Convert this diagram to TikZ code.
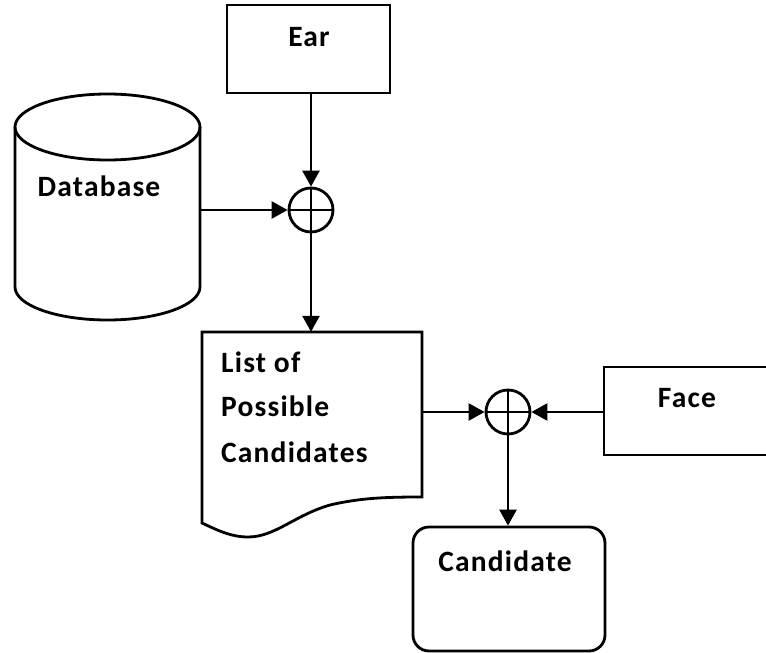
\documentclass[tikz,border=0pt]{standalone}
\usepackage{fontspec}
\setmainfont{Carlito}[LetterSpace=4]
\usetikzlibrary{arrows.meta}
\tikzset{
  outline/.style={draw=black, line width=2.8pt},
  boxnode/.style={outline, rectangle, inner sep=0pt},
  hidden/.style={rectangle, inner sep=0pt},
  sumnode/.style={outline, circle, minimum size=44pt, inner sep=0pt},
  caption/.style={inner sep=0pt, font=\fontsize{29.5}{31}\selectfont\bfseries},
  flow/.style={draw=black, line width=2.6pt, -{Triangle[length=16pt, width=17pt]}}
}
\begin{document}
\begin{tikzpicture}[x=1pt, y=-1pt]
\clip (0,0) rectangle (766,653);
\fill[white] (0,0) rectangle (766,653);

% input boxes
\node[boxnode, minimum width=163pt, minimum height=88pt] (ear) at (308.5,49) {};
\node[caption, anchor=base] (eartext) at (309,46) {Ear};

\node[boxnode, minimum width=200pt, minimum height=88pt] (face) at (704,411) {};
\node[caption, anchor=base] (facetext) at (687,407) {Face};

% database cylinder
\node[hidden, minimum width=185pt, minimum height=227pt] (db) at (107.5,208) {};
\draw[outline] (107.5,127) ellipse [x radius=92.5pt, y radius=33pt];
\draw[outline] (15,127) -- (15,287)
  arc[start angle=180, end angle=360, x radius=92.5pt, y radius=33pt]
  -- (200,127);
\node[caption, anchor=base] (dbtext) at (99,196) {Database};

% summing junctions
\node[sumnode] (s1) at (311,210) {};
\draw[outline] (s1.north) -- (s1.south) (s1.west) -- (s1.east);
\node[sumnode] (s2) at (508,412) {};
\draw[outline] (s2.north) -- (s2.south) (s2.west) -- (s2.east);

% document shape with wavy bottom
\node[hidden, minimum width=220pt, minimum height=191pt] (list) at (312,427.5) {};
\draw[outline, line join=miter] (202,523) -- (202,332) -- (422,332) -- (422,497)
  .. controls (385,497) and (360,498) .. (330,505)
  .. controls (295,515) and (275,537) .. (248,537)
  .. controls (230,537) and (215,529) .. cycle;
\node[caption, anchor=base west] (lt1) at (221,372) {List of};
\node[caption, anchor=base west] (lt2) at (221,416) {Possible};
\node[caption, anchor=base west] (lt3) at (221,462) {Candidates};

% result box
\node[boxnode, rounded corners=16pt, minimum width=192pt, minimum height=124pt] (cand) at (509,589) {};
\node[caption, anchor=base] (candtext) at (505,571) {Candidate};

% connectors
\draw[flow] (ear.south -| s1) -- (s1.north);
\draw[flow] (db.east |- s1) -- (s1.west);
\draw[flow] (s1.south) -- (s1.south |- list.north);
\draw[flow] (list.east |- s2) -- (s2.west);
\draw[flow] (face.west |- s2) -- (s2.east);
\draw[flow] (s2.south) -- (s2.south |- cand.north);
\end{tikzpicture}
\end{document}
